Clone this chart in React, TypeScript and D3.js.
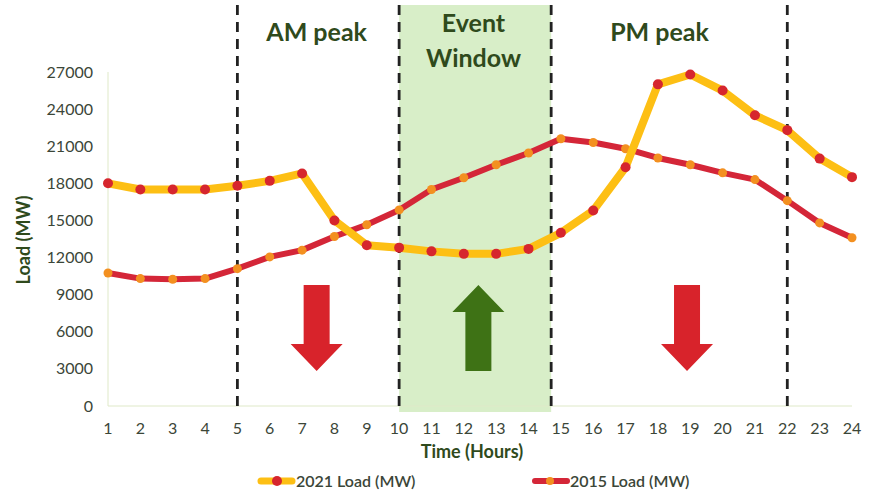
import React from 'react';
import * as d3 from 'd3';

// Hours on the x axis
const hours = d3.range(1, 25);

// Load readings (MW), one per hour
const load2021 = [
  18000, 17500, 17500, 17500, 17800, 18200, 18800, 15000, 13000, 12800, 12500, 12300,
  12300, 12700, 14000, 15800, 19300, 26000, 26800, 25500, 23500, 22300, 20000, 18500
];
const load2015 = [
  10750, 10300, 10250, 10300, 11100, 12050, 12600, 13700, 14650, 15850, 17500, 18450,
  19500, 20450, 21600, 21300, 20800, 20050, 19500, 18850, 18300, 16600, 14800, 13600
];

const yTicks = [0, 3000, 6000, 9000, 12000, 15000, 18000, 21000, 24000, 27000];

// Dashed boundaries and event window (hours)
const boundaries = [5, 10, 14.7, 22];
const eventWindow = [10, 14.7];

// Period labels and arrows
const periods = [
  { label: ['AM peak'], hour: 7.45 },
  { label: ['Event', 'Window'], hour: 12.3 },
  { label: ['PM peak'], hour: 18.05 }
];
const arrows = [
  { hour: 7.45, dir: 'down' },
  { hour: 12.45, dir: 'up' },
  { hour: 18.9, dir: 'down' }
];

const W = 873;
const H = 492;
const FONT = 'Lato, "Open Sans", sans-serif';
const TXT = '#3b4638';
const GREEN = '#2f4a1c';

const x = d3.scaleLinear().domain([1, 24]).range([108, 852]);
const y = d3.scaleLinear().domain([0, 27000]).range([406, 72]);

const line = d3.line<number>()
  .x((d, i) => x(hours[i]))
  .y(d => y(d));

const arrowPath = (cx: number, dir: string) => {
  const top = 285, bottom = 371;
  const shaft = 13, head = 26, headLen = 27;
  if (dir === 'down') {
    const hb = bottom - headLen;
    return `M${cx - shaft},${top}H${cx + shaft}V${hb}H${cx + head}L${cx},${bottom}L${cx - head},${hb}H${cx - shaft}Z`;
  }
  const hb = top + headLen;
  return `M${cx - shaft},${bottom}H${cx + shaft}V${hb}H${cx + head}L${cx},${top}L${cx - head},${hb}H${cx - shaft}Z`;
};

const App = () => {
  return (
    <div style={{ position: 'absolute', left: 0, top: 0 }}>
      <svg width={W} height={H} style={{ display: 'block', background: '#fff' }} fontFamily={FONT}>
        <rect x={x(eventWindow[0])} y={5} width={x(eventWindow[1]) - x(eventWindow[0])} height={407} fill="#d8eec8" />

        {/* axis lines */}
        <line x1={x(1)} x2={x(1)} y1={y(27000)} y2={y(0)} stroke="#dfe9c8" strokeWidth={1} />
        <line x1={x(1)} x2={x(24)} y1={y(0)} y2={y(0)} stroke="#dfe9c8" strokeWidth={1} />

        {yTicks.map(t => (
          <text key={t} x={93} y={y(t)} dy="0.35em" textAnchor="end" fontSize={16} fill={TXT}>{t}</text>
        ))}
        {hours.map(h => (
          <text key={h} x={x(h)} y={428} dy="0.35em" textAnchor="middle" fontSize={16} fill={TXT}>{h}</text>
        ))}

        <text transform="translate(30,240) rotate(-90)" textAnchor="middle" fontSize={18} fontWeight={700} fill={GREEN}>Load (MW)</text>
        <text x={472} y={452} dy="0.35em" textAnchor="middle" fontSize={18} fontWeight={700} fill={GREEN}>Time (Hours)</text>

        {boundaries.map(b => (
          <line key={b} x1={x(b)} x2={x(b)} y1={5} y2={413} stroke="#222" strokeWidth={2.8} strokeDasharray="10 7" />
        ))}

        {periods.map((p, i) => (
          <text key={i} x={x(p.hour)} y={p.label.length > 1 ? 23 : 32} textAnchor="middle" fontSize={25} fontWeight={700} fill={GREEN}>
            {p.label.map((l, j) => (
              <tspan key={j} x={x(p.hour)} dy={j === 0 ? '0.35em' : 35}>{l}</tspan>
            ))}
          </text>
        ))}

        {arrows.map((a, i) => (
          <path key={i} d={arrowPath(x(a.hour), a.dir)} fill={a.dir === 'up' ? '#3e7215' : '#d8232b'} />
        ))}

        <path d={line(load2015) || ''} fill="none" stroke="#d42638" strokeWidth={6} strokeLinejoin="round" />
        {load2015.map((v, i) => (
          <circle key={i} cx={x(hours[i])} cy={y(v)} r={4.5} fill="#f39020" />
        ))}
        <path d={line(load2021) || ''} fill="none" stroke="#fdbf14" strokeWidth={8} strokeLinejoin="round" />
        {load2021.map((v, i) => (
          <circle key={i} cx={x(hours[i])} cy={y(v)} r={5} fill="#d6262e" />
        ))}

        {/* legend */}
        <line x1={261} x2={292} y1={481} y2={481} stroke="#fdbf14" strokeWidth={7} strokeLinecap="round" />
        <circle cx={277} cy={481} r={5} fill="#d6262e" />
        <text x={296} y={481} dy="0.35em" fontSize={16} fontWeight={600} fill={TXT}>2021 Load (MW)</text>
        <line x1={535} x2={567} y1={481} y2={481} stroke="#d42638" strokeWidth={6} strokeLinecap="round" />
        <circle cx={550} cy={481} r={4} fill="#f39020" />
        <text x={570} y={481} dy="0.35em" fontSize={16} fontWeight={600} fill={TXT}>2015 Load (MW)</text>
      </svg>
    </div>
  );
};

export default App;
